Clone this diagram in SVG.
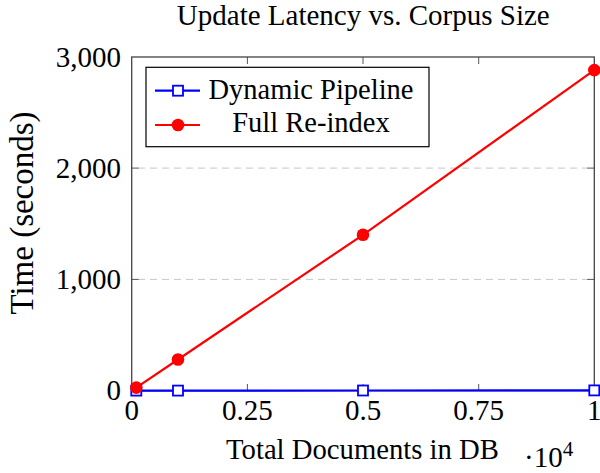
<svg xmlns="http://www.w3.org/2000/svg" width="600" height="473" viewBox="0 0 600 473" font-family="'Liberation Serif', 'DejaVu Serif', serif">
<style>
text{font-family:'Liberation Serif','DejaVu Serif',serif;fill:#000}
.tk{font-size:29px}
.grid{stroke:#c8c8c8;stroke-width:1;stroke-dasharray:7 5;fill:none}
.tick{stroke:#555;stroke-width:1;fill:none}
.frame{stroke:#444;stroke-width:1.3;fill:none}
.blue{stroke:#0000ff;stroke-width:2.2;fill:none}
.red{stroke:#ff0000;stroke-width:2.2;fill:none}
.bm{stroke:#0000ff;stroke-width:1.8;fill:#fff}
.rm{fill:#ff0000;stroke:none}
</style>
<rect width="600" height="473" fill="#fff"/>
<g id="title"><text x="363.3" y="25" font-size="29" text-anchor="middle">Update Latency vs. Corpus Size</text></g>
<g id="grid">
<line class="grid" x1="138" y1="168.1" x2="588" y2="168.1"/>
<line class="grid" x1="138" y1="279.4" x2="588" y2="279.4"/>
</g>
<g id="ticks">
<line class="tick" x1="247.4" y1="391" x2="247.4" y2="384"/>
<line class="tick" x1="363" y1="391" x2="363" y2="384"/>
<line class="tick" x1="478.7" y1="391" x2="478.7" y2="384"/>
<line class="tick" x1="247.4" y1="57" x2="247.4" y2="64"/>
<line class="tick" x1="363" y1="57" x2="363" y2="64"/>
<line class="tick" x1="478.7" y1="57" x2="478.7" y2="64"/>
<line class="tick" x1="131.7" y1="168.1" x2="138.7" y2="168.1"/>
<line class="tick" x1="131.7" y1="279.4" x2="138.7" y2="279.4"/>
<line class="tick" x1="594.3" y1="168.1" x2="587.3" y2="168.1"/>
<line class="tick" x1="594.3" y1="279.4" x2="587.3" y2="279.4"/>
</g>
<rect class="frame" x="131.7" y="57" width="462.6" height="333.7"/>
<g id="yticklabels" class="tk" text-anchor="end">
<text x="121" y="400.2">0</text>
<text x="121" y="288.9">1,000</text>
<text x="121" y="177.6">2,000</text>
<text x="121" y="66.5">3,000</text>
</g>
<g id="xticklabels" class="tk" text-anchor="middle">
<text x="131.7" y="420">0</text>
<text x="247.4" y="420">0.25</text>
<text x="363" y="420">0.5</text>
<text x="478.7" y="420">0.75</text>
<text x="594.3" y="420">1</text>
</g>
<g id="xlabel"><text x="362.5" y="458.5" font-size="28.7" text-anchor="middle">Total Documents in DB</text></g>
<g id="xscale"><text x="524" y="467" font-size="29">·10<tspan font-size="21" dy="-11">4</tspan></text></g>
<g id="ylabel"><text transform="translate(33,213) rotate(-90)" font-size="33" text-anchor="middle">Time (seconds)</text></g>
<g id="connectors">
<polyline class="blue" points="136.3,390.6 178,390.6 363,390.5 594.3,390.4"/>
<polyline class="red" points="136.3,387.6 178,359.5 363,234.8 594.3,70.1"/>
</g>
<g id="dynamic-markers">
<rect class="bm" x="131.3" y="385.6" width="10" height="10"/>
<rect class="bm" x="173" y="385.6" width="10" height="10"/>
<rect class="bm" x="358" y="385.5" width="10" height="10"/>
<rect class="bm" x="589.3" y="385.4" width="10" height="10"/>
</g>
<g id="full-markers">
<circle class="rm" cx="136.3" cy="387.6" r="6.3"/>
<circle class="rm" cx="178" cy="359.5" r="6.3"/>
<circle class="rm" cx="363" cy="234.8" r="6.3"/>
<circle class="rm" cx="594.3" cy="70.1" r="6.3"/>
</g>
<g id="legend">
<rect x="146" y="67.3" width="283" height="79.4" fill="#fff" stroke="#000" stroke-width="1.2"/>
<line class="blue" x1="155" y1="90.7" x2="200" y2="90.7"/>
<rect class="bm" x="173" y="85.7" width="10" height="10"/>
<line class="red" x1="155" y1="125" x2="200" y2="125"/>
<circle class="rm" cx="178" cy="125" r="6.3"/>
<text x="311" y="98.5" font-size="28.5" text-anchor="middle">Dynamic Pipeline</text>
<text x="311" y="132" font-size="28.5" text-anchor="middle">Full Re-index</text>
</g>
</svg>
